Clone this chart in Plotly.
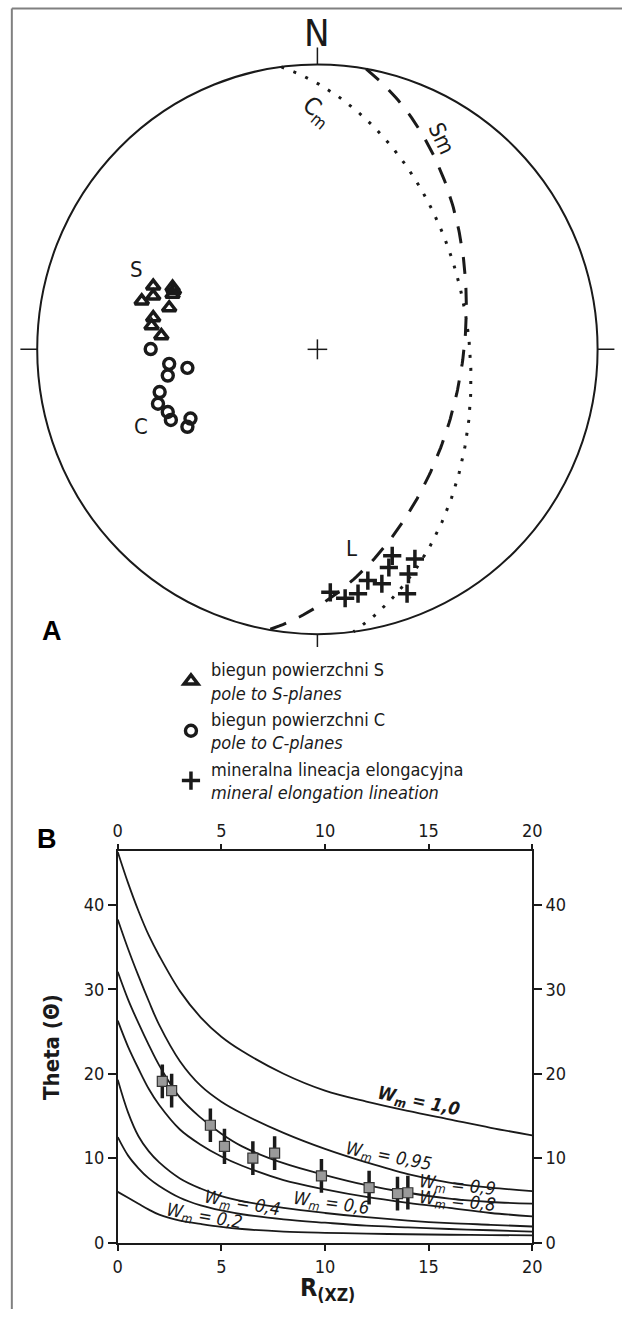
import numpy as np
import plotly.graph_objects as go

W, H = 632, 1319
FONT = "Liberation Sans Narrow, DejaVu Sans Condensed, Arial Narrow, sans-serif"
INK = "#1a1a1a"

# ---------------- Panel A : stereonet data (net coords, primitive radius = 1) ----------------
S_x = [-0.586, -0.517, -0.512, -0.586, -0.517, -0.627, -0.529, -0.586, -0.592, -0.557]
S_y = [0.222, 0.218, 0.207, 0.187, 0.193, 0.170, 0.146, 0.111, 0.083, 0.048]
C_x = [-0.595, -0.529, -0.464, -0.534, -0.563, -0.569, -0.534, -0.523, -0.453, -0.464]
C_y = [0.001, -0.051, -0.065, -0.092, -0.150, -0.191, -0.220, -0.248, -0.243, -0.272]
L_x = [0.267, 0.255, 0.348, 0.325, 0.180, 0.230, 0.046, 0.099, 0.145, 0.320]
L_y = [-0.725, -0.766, -0.736, -0.789, -0.812, -0.823, -0.853, -0.874, -0.858, -0.858]
# mean planes (dip direction, dip) in degrees
Sm_plane = (100.0, 47.0)
Cm_plane = (82.6, 45.0)

# ---------------- Panel B : Theta vs R(xz) ----------------
R_grid = [0, 0.5, 1, 1.5, 2, 3, 4, 5, 6, 8, 10, 12, 14, 16, 18, 20]
W10_T = [46.3, 42.6, 39.3, 36.4, 34.0, 29.8, 26.7, 24.4, 22.7, 20.0, 18.0, 16.7, 15.6, 14.6, 13.6, 12.7]
W095_T = [38.3, 34.8, 31.6, 28.6, 25.8, 21.5, 18.6, 16.7, 15.3, 13.0, 11.1, 9.5, 8.1, 7.1, 6.5, 6.1]
W09_T = [32.1, 28.8, 26.0, 23.4, 21.0, 17.2, 14.8, 12.9, 11.4, 9.4, 8.0, 6.8, 5.9, 5.2, 4.8, 4.6]
W08_T = [26.3, 23.2, 20.6, 18.2, 16.3, 13.4, 11.6, 10.2, 9.1, 7.4, 6.3, 5.4, 4.7, 4.1, 3.5, 3.1]
W06_T = [19.3, 15.4, 12.6, 10.8, 9.5, 7.6, 6.4, 5.5, 4.9, 4.1, 3.5, 3.0, 2.6, 2.3, 2.1, 1.9]
W04_T = [12.5, 10.3, 8.8, 7.6, 6.7, 5.3, 4.4, 3.8, 3.35, 2.75, 2.35, 2.0, 1.8, 1.6, 1.45, 1.3]
W02_T = [6.0, 5.3, 4.6, 3.9, 3.3, 2.6, 2.2, 1.85, 1.6, 1.3, 1.15, 1.05, 0.98, 0.92, 0.88, 0.84]

pts_R = [2.15, 2.60, 4.47, 5.15, 6.52, 7.57, 9.83, 12.13, 13.50, 14.00]
pts_T = [19.1, 18.0, 13.9, 11.4, 10.0, 10.6, 7.9, 6.5, 5.8, 5.9]
pts_err = [2.0, 2.0, 2.0, 2.1, 2.0, 2.0, 2.0, 2.0, 2.0, 2.0]

curve_labels = [
    ("<b><i>W<sub>m</sub> = 1,0</i></b>", 14.5, 16.7, 12),
    ("<i>W<sub>m</sub> = 0,95</i>", 13.05, 10.1, 11),
    ("<i>W<sub>m</sub> = 0,9</i>", 16.4, 6.7, 6),
    ("<i>W<sub>m</sub> = 0,8</i>", 16.4, 4.75, 6),
    ("<i>W<sub>m</sub> = 0,6</i>", 10.3, 4.6, 8),
    ("<i>W<sub>m</sub> = 0,4</i>", 6.03, 4.55, 10),
    ("<i>W<sub>m</sub> = 0,2</i>", 4.17, 3.05, 10),
]
xticks = [0, 5, 10, 15, 20]
yticks = [0, 10, 20, 30, 40]


def schmidt(trend, plunge):
    r = np.sqrt(2) * np.sin(np.radians(90 - np.asarray(plunge)) / 2)
    t = np.radians(trend)
    return r * np.sin(t), r * np.cos(t)


def great_circle(ddir, dip, n=181):
    lam = np.radians(np.linspace(0, 180, n))
    s = np.radians(ddir - 90)
    d = np.radians(ddir)
    dp = np.radians(dip)
    sv = np.array([np.sin(s), np.cos(s), 0.0])
    dv = np.array([np.sin(d) * np.cos(dp), np.cos(d) * np.cos(dp), np.sin(dp)])
    v = np.outer(np.cos(lam), sv) + np.outer(np.sin(lam), dv)
    plunge = np.degrees(np.arcsin(np.clip(v[:, 2], -1, 1)))
    trend = np.degrees(np.arctan2(v[:, 0], v[:, 1]))
    return schmidt(trend, plunge)


# ---------------- layout geometry (pixels) ----------------
CX, CY, RAD = 320.0, 352.0, 287.0
A_px = (10, 630)
A_py = (2, 797)
B_px = (115.5, 540.0)
B_py = (857.0, 1252.0)
B_ymax = (B_py[1] - B_py[0]) / 8.5


def px2paper_x(p):
    return p / W


def py2paper_y(p):
    return 1 - p / H


fig = go.Figure()

# stereonet traces
gx, gy = great_circle(*Sm_plane)
fig.add_trace(go.Scatter(x=gx, y=gy, mode="lines", xaxis="x2", yaxis="y2", showlegend=False,
                         line=dict(color=INK, width=3, dash="17px,14px")))
gx, gy = great_circle(*Cm_plane)
fig.add_trace(go.Scatter(x=gx, y=gy, mode="lines", xaxis="x2", yaxis="y2", showlegend=False,
                         line=dict(color=INK, width=3, dash="3px,10px")))

fig.add_trace(go.Scatter(x=S_x, y=S_y, mode="markers", xaxis="x2", yaxis="y2",
                         name="biegun powierzchni S<br><i>pole to S-planes</i>",
                         marker=dict(symbol="triangle-up-open", size=12, color=INK,
                                     line=dict(width=3.5, color=INK))))
fig.add_trace(go.Scatter(x=C_x, y=C_y, mode="markers", xaxis="x2", yaxis="y2",
                         name="biegun powierzchni C<br><i>pole to C-planes</i>",
                         marker=dict(symbol="circle-open", size=11, color=INK,
                                     line=dict(width=3.4, color=INK))))
fig.add_trace(go.Scatter(x=L_x, y=L_y, mode="markers", xaxis="x2", yaxis="y2",
                         name="mineralna lineacja elongacyjna<br><i>mineral elongation lineation</i>",
                         marker=dict(symbol="cross-thin", size=13, color=INK,
                                     line=dict(width=3.5, color=INK))))

# panel B curves
for T in [W10_T, W095_T, W09_T, W08_T, W06_T, W04_T, W02_T]:
    fig.add_trace(go.Scatter(x=R_grid, y=T, mode="lines", showlegend=False,
                             line=dict(color=INK, width=1.8, shape="spline", smoothing=1.0)))

fig.add_trace(go.Scatter(x=pts_R, y=pts_T, mode="markers", showlegend=False,
                         error_y=dict(type="data", array=pts_err, visible=True,
                                      thickness=3.5, width=0, color=INK),
                         marker=dict(symbol="square", size=10, color="#9a9a9a",
                                     line=dict(width=1.2, color="#333333"))))
# dummy trace for mirrored axes
fig.add_trace(go.Scatter(x=[None], y=[None], xaxis="x3", yaxis="y3", showlegend=False))

axis_common = dict(showgrid=False, zeroline=False, showline=True, linecolor=INK, linewidth=1.5,
                   ticks="outside", tickwidth=1.5, tickcolor=INK,
                   tickfont=dict(family=FONT, size=18, color=INK))

fig.update_layout(
    width=W, height=H, margin=dict(l=0, r=0, t=0, b=0),
    paper_bgcolor="white", plot_bgcolor="rgba(0,0,0,0)",
    xaxis=dict(domain=[px2paper_x(B_px[0]), px2paper_x(B_px[1])], range=[0, 20],
               tickvals=xticks, ticklen=7, anchor="y", **axis_common),
    yaxis=dict(domain=[py2paper_y(B_py[1]), py2paper_y(B_py[0])], range=[0, B_ymax],
               tickvals=yticks, ticklen=8, anchor="x", **axis_common),
    xaxis3=dict(overlaying="x", side="top", anchor="y3", range=[0, 20], tickvals=xticks,
                ticklen=5, **axis_common),
    yaxis3=dict(overlaying="y", side="right", anchor="x3", range=[0, B_ymax], tickvals=yticks,
                ticklen=8, **axis_common),
    xaxis2=dict(domain=[px2paper_x(A_px[0]), px2paper_x(A_px[1])],
                range=[-(CX - A_px[0]) / RAD, (A_px[1] - CX) / RAD],
                visible=False, anchor="y2"),
    yaxis2=dict(domain=[py2paper_y(A_py[1]), py2paper_y(A_py[0])],
                range=[(CY - A_py[1]) / RAD, (CY - A_py[0]) / RAD],
                visible=False, anchor="x2"),
    legend=dict(x=px2paper_x(170), y=py2paper_y(656), xanchor="left", yanchor="top",
                bgcolor="rgba(0,0,0,0)", font=dict(family=FONT, size=18, color=INK),
                itemsizing="trace", tracegroupgap=0),
    showlegend=True,
)

shapes = []
# stereonet primitive, centre cross, cardinal ticks
shapes.append(dict(type="circle", xref="x2", yref="y2", x0=-1, y0=-1, x1=1, y1=1,
                   line=dict(color=INK, width=2)))
cr = 0.035
shapes.append(dict(type="line", xref="x2", yref="y2", x0=-cr, y0=0, x1=cr, y1=0, line=dict(color=INK, width=1.5)))
shapes.append(dict(type="line", xref="x2", yref="y2", x0=0, y0=-cr, x1=0, y1=cr, line=dict(color=INK, width=1.5)))
tk = 0.06
for (x0, y0, x1, y1) in [(0, 1, 0, 1 + tk), (0, -1, 0, -1 - tk * 0.75), (1, 0, 1 + tk, 0), (-1, 0, -1 - tk, 0)]:
    shapes.append(dict(type="line", xref="x2", yref="y2", x0=x0, y0=y0, x1=x1, y1=y1,
                       line=dict(color=INK, width=1.5)))
# outer frame (top + left)
shapes.append(dict(type="line", xref="paper", yref="paper", x0=px2paper_x(7), x1=1.0,
                   y0=py2paper_y(8.5), y1=py2paper_y(8.5), line=dict(color="#808080", width=2)))
shapes.append(dict(type="line", xref="paper", yref="paper", x0=px2paper_x(7), x1=px2paper_x(7),
                   y0=py2paper_y(8.5), y1=0.0, line=dict(color="#808080", width=2)))
fig.update_layout(shapes=shapes)

C = dict(showarrow=False, xanchor="center", yanchor="middle")
ann = []
ann.append(dict(text="N", x=0, y=(CY - 33) / RAD, xref="x2", yref="y2",
                font=dict(family=FONT, size=38, color=INK), **C))
ann.append(dict(text="S", x=-0.645, y=0.280, xref="x2", yref="y2",
                font=dict(family=FONT, size=22, color=INK), **C))
ann.append(dict(text="C", x=-0.630, y=-0.272, xref="x2", yref="y2",
                font=dict(family=FONT, size=22, color=INK), **C))
ann.append(dict(text="L", x=0.122, y=-0.700, xref="x2", yref="y2",
                font=dict(family=FONT, size=22, color=INK), **C))
ann.append(dict(text="C<sub>m</sub>", x=0.0, y=0.833, xref="x2", yref="y2",
                textangle=40, font=dict(family=FONT, size=24, color=INK), **C))
ann.append(dict(text="Sm", x=0.442, y=0.739, xref="x2", yref="y2",
                textangle=65, font=dict(family=FONT, size=22, color=INK), **C))
ann.append(dict(text="<b>A</b>", x=px2paper_x(48), y=py2paper_y(636), xref="paper", yref="paper",
                font=dict(family="Liberation Sans, Arial, sans-serif", size=27,
                          color="black", weight=900), **C))
ann.append(dict(text="<b>B</b>", x=px2paper_x(43), y=py2paper_y(845), xref="paper", yref="paper",
                font=dict(family="Liberation Sans, Arial, sans-serif", size=27,
                          color="black", weight=900), **C))
ann.append(dict(text="<b>Theta (Θ)</b>", x=px2paper_x(47), y=py2paper_y(1055), xref="paper", yref="paper",
                textangle=-90, font=dict(family=FONT, size=22, color=INK), **C))
ann.append(dict(text="<b>R<sub>(XZ)</sub></b>", x=px2paper_x(330), y=py2paper_y(1299), xref="paper",
                yref="paper", font=dict(family=FONT, size=25, color=INK), **C))
for txt, xr, yt, ang in curve_labels:
    ann.append(dict(text=txt, x=xr, y=yt, xref="x", yref="y", textangle=ang,
                    font=dict(family=FONT, size=18, color=INK), **C))
fig.update_layout(annotations=ann)

fig.write_html("out.html", config={"displayModeBar": False},
               post_script="document.body.style.margin='0px';document.body.style.overflow='hidden';")
